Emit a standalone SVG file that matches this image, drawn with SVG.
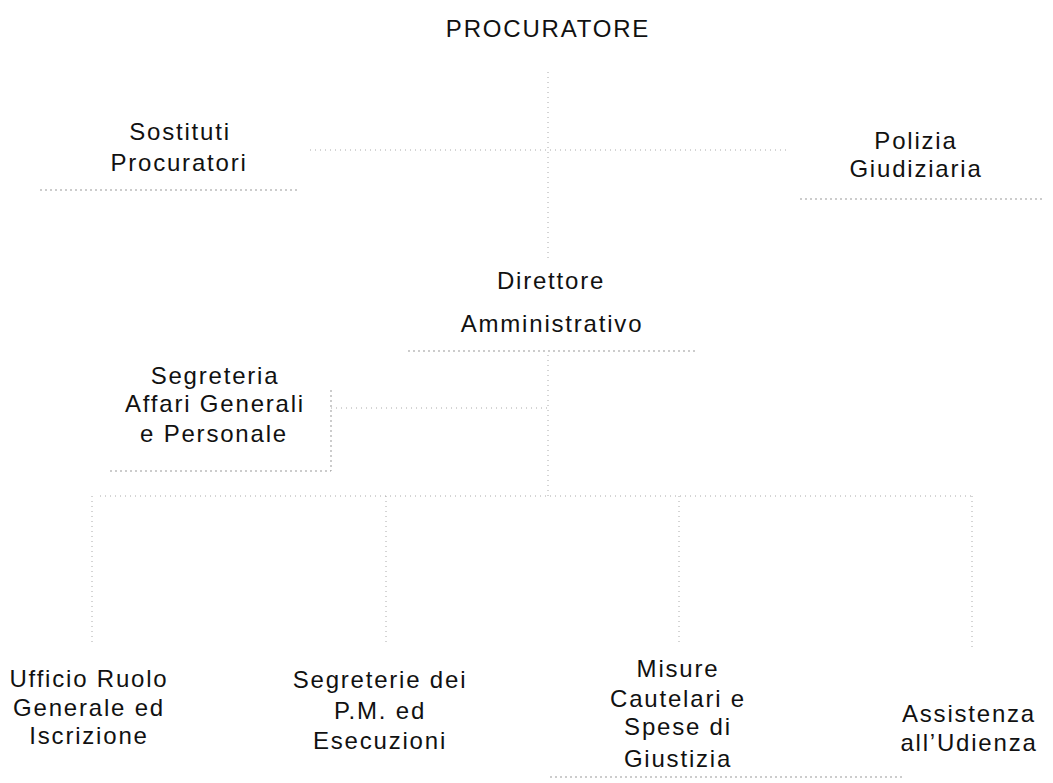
<svg xmlns="http://www.w3.org/2000/svg" width="1053" height="783" viewBox="0 0 1053 783">
<style>
text{font-family:"Liberation Sans",Arial,sans-serif;font-size:24px;letter-spacing:1.8px;fill:#111;text-anchor:middle}
.c{stroke:#aaa;stroke-width:1;stroke-dasharray:1 4;fill:none}
.e{stroke:#999;stroke-width:1;stroke-dasharray:2 3;fill:none}
</style>
<rect width="1053" height="783" fill="#fff"/>
<g id="connectors">
<path class="c" d="M548 72V262"/>
<path class="c" d="M310 150H790"/>
<path class="c" d="M548 355V496"/>
<path class="c" d="M331 408H548"/>
<path class="c" d="M100 496H972"/>
<path class="c" d="M92 496V642"/>
<path class="c" d="M386 496V645"/>
<path class="c" d="M679 496V645"/>
<path class="c" d="M972 496V648"/>
</g>
<g id="procuratore"><text x="548" y="37">PROCURATORE</text></g>
<g id="sostituti"><text x="180" y="140">Sostituti</text><text x="179" y="171">Procuratori</text><path class="e" d="M40 190H300"/></g>
<g id="polizia"><text x="916" y="149">Polizia</text><text x="916" y="177">Giudiziaria</text><path class="e" d="M800 199H1045"/></g>
<g id="direttore"><text x="551" y="289">Direttore</text><text x="552" y="332">Amministrativo</text><path class="e" d="M408 351H698"/></g>
<g id="segreteria-ag"><text x="215" y="384">Segreteria</text><text x="215" y="412">Affari Generali</text><text x="214" y="442">e Personale</text><path class="e" d="M110 471H331V390"/></g>
<g id="ufficio-ruolo"><text x="89" y="687">Ufficio Ruolo</text><text x="89" y="716">Generale ed</text><text x="89" y="744">Iscrizione</text></g>
<g id="segreterie-pm"><text x="380" y="688">Segreterie dei</text><text x="380" y="719">P.M. ed</text><text x="380" y="749">Esecuzioni</text></g>
<g id="misure"><text x="678" y="677">Misure</text><text x="678" y="707">Cautelari e</text><text x="678" y="735">Spese di</text><text x="678" y="767">Giustizia</text><path class="e" d="M550 777H905"/></g>
<g id="assistenza"><text x="969" y="722">Assistenza</text><text x="969" y="751">all’Udienza</text></g>
</svg>
